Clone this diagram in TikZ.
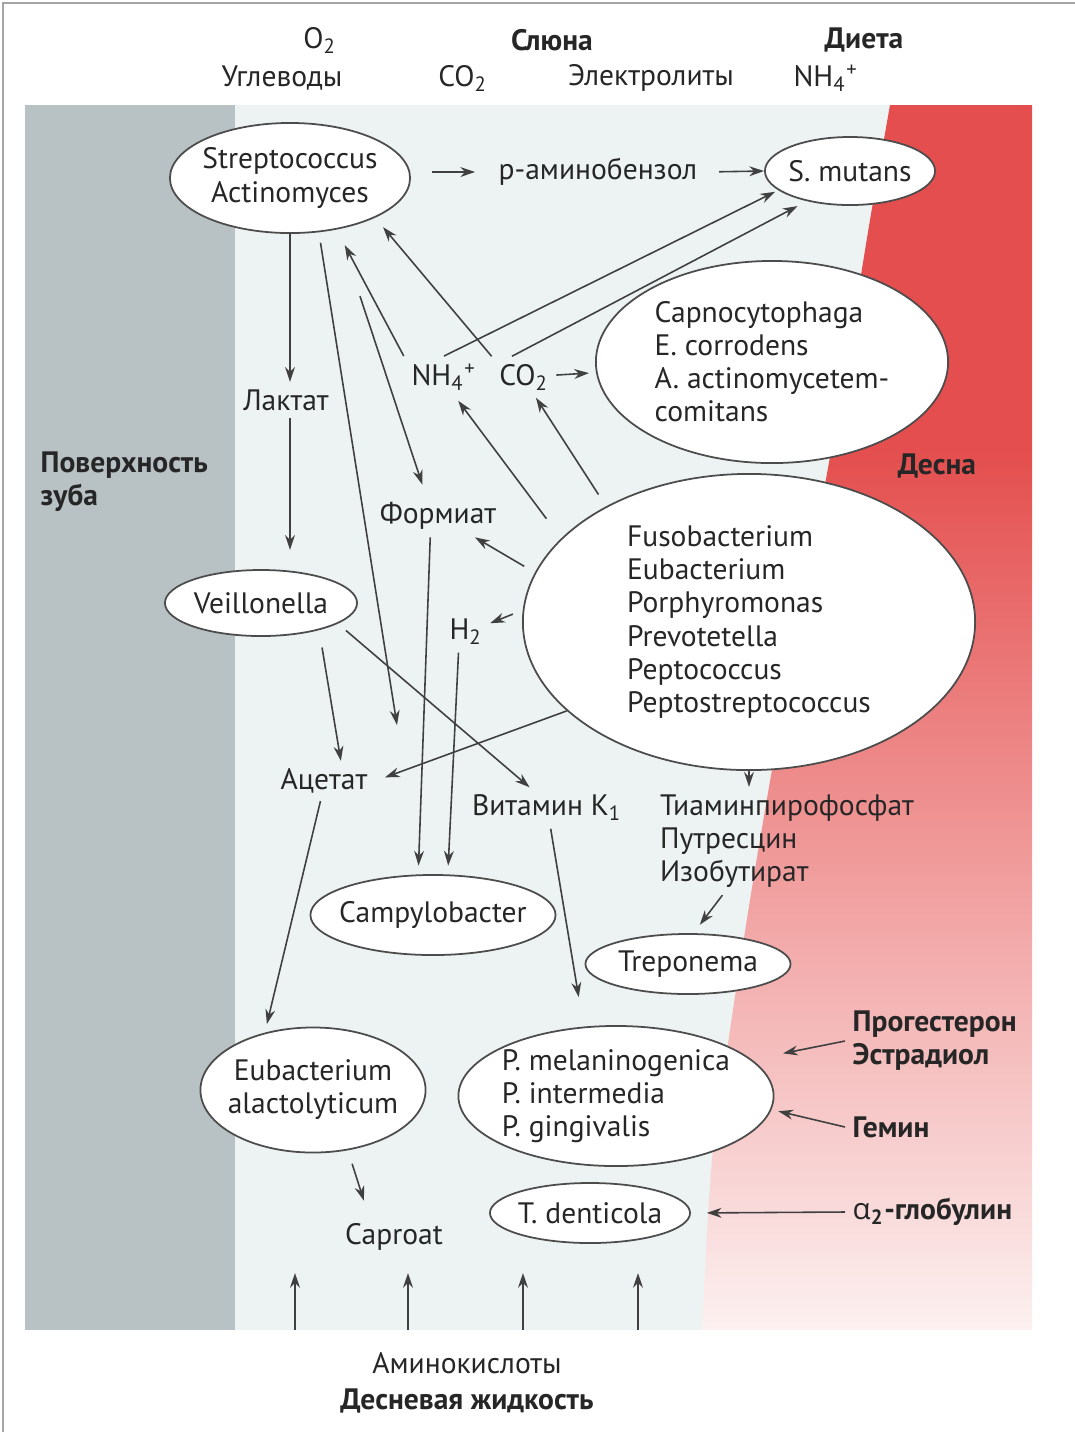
\documentclass[tikz,border=0pt]{standalone}
\usepackage{fontspec}
\setmainfont{PT Sans}
\newfontfamily\greekfont{Open Sans}
\usetikzlibrary{calc, arrows.meta, shapes.geometric}

\definecolor{toothgray}{RGB}{184,193,195}
\definecolor{midfill}{RGB}{237,242,242}
\definecolor{gumtop}{RGB}{228,78,78}
\definecolor{gummid}{RGB}{241,160,160}
\definecolor{gumbot}{RGB}{252,240,240}
\pgfdeclareverticalshading{gumshade}{100bp}{color(0bp)=(gumbot); color(25bp)=(gumbot);
  color(43bp)=(gummid); color(61bp)=(gumtop); color(100bp)=(gumtop)}

\begin{document}
\begin{tikzpicture}[x=0.01cm, y=-0.01cm,
  font=\fontsize{8.4}{9.4}\selectfont, text=black!85,
  lbl/.style={inner sep=2pt},
  hd/.style={inner sep=2pt, font=\fontsize{8.4}{9.4}\selectfont\bfseries},
  bug/.style={ellipse, draw=black!70, line width=0.5pt, fill=white, inner sep=-4pt, align=center},
  arr/.style={draw=black!75, line width=0.45pt, -{Stealth[length=4.2pt, width=2.8pt]}}]

\useasboundingbox (0,0) rectangle (1075,1432);

% фон: зуб, бляшка, десна
\fill[white] (0,0) rectangle (1075,1432);
\draw[black!35, line width=0.8pt] (3,1432) -- (3,3) -- (1075,3);
\fill[midfill] (25,105) rectangle (1032,1330);
\fill[toothgray] (25,105) rectangle (235,1330);
\shade[shading=gumshade]
  plot[smooth] coordinates {(890,105) (870,220) (852,330) (828,468) (800,620)
    (772,770) (750,900) (730,1030) (712,1160) (702,1330)}
  -- (1032,1330) -- (1032,105) -- cycle;

% верхние подписи
\node[lbl] (otwo) at (320,40) {O\textsubscript{2}};
\node[hd] (saliva) at (552,40) {Слюна};
\node[hd] (diet) at (864,40) {Диета};
\node[lbl] (carbs) at (282,78) {Углеводы};
\node[lbl] (cotwotop) at (463,78) {CO\textsubscript{2}};
\node[lbl] (electro) at (651,78) {Электролиты};
\node[lbl] (nhfourtop) at (826,78) {NH\textsubscript{4}\textsuperscript{+}};

% бактерии
\node[bug, minimum width=2.4cm, minimum height=1.1cm] (strep) at (290,178) {Streptococcus\\Actinomyces};
\node[bug, minimum width=1.7cm, minimum height=0.68cm] (smutans) at (850,171) {S. mutans};
\node[bug, minimum width=3.52cm, minimum height=2.02cm, align=left] (capno) at (772,362)
  {Capnocytophaga\\E. corrodens\\A. actinomycetem-\\comitans};
\node[bug, minimum width=4.52cm, minimum height=2.96cm, align=left] (fuso) at (749,622)
  {Fusobacterium\\Eubacterium\\Porphyromonas\\Prevotetella\\Peptococcus\\Peptostreptococcus};
\node[bug, minimum width=1.92cm, minimum height=0.66cm] (veill) at (261,603) {Veillonella};
\node[bug, minimum width=2.45cm, minimum height=0.8cm] (campy) at (433,915) {Campylobacter};
\node[bug, minimum width=2.05cm, minimum height=0.6cm] (trepo) at (688,964) {Treponema};
\node[bug, minimum width=2.25cm, minimum height=1.25cm] (eubac) at (313,1090) {Eubacterium\\alactolyticum};
\node[bug, minimum width=3.15cm, minimum height=1.4cm, align=left] (pmel) at (616,1096)
  {P. melaninogenica\\P. intermedia\\P. gingivalis};
\node[bug, minimum width=2.0cm, minimum height=0.6cm] (tdent) at (590,1213) {T. denticola};

% метаболиты
\node[lbl] (paba) at (598,172) {p-аминобензол};
\node[lbl] (nhfour) at (444,377) {NH\textsubscript{4}\textsuperscript{+}};
\node[lbl] (cotwo) at (524,377) {CO\textsubscript{2}};
\node[lbl] (laktat) at (286,400) {Лактат};
\node[lbl] (formiat) at (438,516) {Формиат};
\node[lbl] (htwo) at (466,632) {H\textsubscript{2}};
\node[lbl] (acetat) at (324,781) {Ацетат};
\node[lbl] (vitk) at (547,808) {Витамин K\textsubscript{1}};
\node[lbl, align=left] (tiamin) at (787,841) {Тиаминпирофосфат\\Путресцин\\Изобутират};
\node[lbl] (caproat) at (394,1237) {Caproat};
\coordinate (acetat-in) at (397,725);

% зоны и источники
\node[hd, anchor=west, align=left] (tooth) at (33,482) {Поверхность\\зуба};
\node[hd] (gum) at (937,466) {Десна};
\node[hd, anchor=west, align=left] (progest) at (845,1041) {Прогестерон\\Эстрадиол};
\node[hd, anchor=west] (gemin) at (845,1127) {Гемин};
\node[hd, anchor=west] (alpha) at (845,1212) {{\greekfont\mdseries α}\textsubscript{2}-глобулин};
\node[lbl] (amino) at (467,1363) {Аминокислоты};
\node[hd] (gcf) at (467,1401) {Десневая жидкость};

% стрелки от Streptococcus
\draw[arr] (strep.south) -- (strep.south |- laktat.north);
\draw[arr, shorten >=5.5pt] (strep.south |- laktat.south) -- (strep.south |- veill.north);
\draw[arr, shorten <=3pt] (strep.-62) -- (acetat-in);
\draw[arr, shorten <=20pt, shorten >=3pt] (strep.-47) -- (formiat.120);
\draw[arr, shorten <=6pt, shorten >=4.5pt] (strep.east |- paba.west) -- (paba.west);
\draw[arr, shorten <=4pt] (paba.east) -- (smutans.west);

% NH4+ и CO2
\draw[arr, shorten >=5pt] (nhfour.north west) -- (strep.-48);
\draw[arr, shorten >=3.5pt] (cotwo.north west) -- (strep.-25);
\draw[arr, shorten >=1pt] (nhfour.north) -- (smutans.195);
\draw[arr, shorten >=3pt] (cotwo.120) -- (smutans.215);
\draw[arr, shorten >=2pt] (cotwo) -- (capno);

% от Fusobacterium и др.
\draw[arr, shorten <=7pt, shorten >=1pt] (fuso.156) -- (nhfour.-60);
\draw[arr, shorten <=4pt] (fuso.141) -- (cotwo.-60);
\draw[arr, shorten <=3.5pt] (fuso.167) -- (formiat.-30);
\draw[arr, shorten <=3pt] (fuso.177) -- (htwo.20);
\draw[arr, shorten >=3pt] (fuso.206) -- (acetat.east);
\draw[arr] (fuso.south) -- (fuso.south |- tiamin.north);

% нижняя часть
\draw[arr, shorten <=5pt] (veill.-25) -- (acetat.50);
\draw[arr, shorten <=3pt] (veill.-15) -- (vitk.130);
\draw[arr, shorten >=2.5pt] (formiat.-110) -- (campy.110);
\draw[arr, shorten >=2.5pt] (htwo.-110) -- (campy.70);
\draw[arr, shorten >=2.5pt] (acetat.-100) -- (eubac.130);
\draw[arr, shorten >=8.5pt] (vitk.-80) -- (pmel.115);
\draw[arr, shorten >=3pt] (tiamin.-140) -- (trepo.80);
\draw[arr, shorten <=4pt, shorten >=4.5pt] (eubac.-60) -- (caproat.140);

% гормоны, гемин, глобулин
\draw[arr, shorten >=9pt] (progest.west) -- (pmel.15);
\draw[arr, shorten >=2pt] (gemin.west) -- (pmel.-5);
\draw[arr, shorten >=4.5pt] (alpha.west) -- (tdent.east);

% десневая жидкость
\foreach \i/\x in {1/295, 2/408, 3/523, 4/638} {
  \coordinate (gcf\i) at (\x,1330);
  \coordinate (gcft\i) at (\x,1273);
  \draw[arr] (gcf\i) -- (gcft\i);
}

\end{tikzpicture}
\end{document}
